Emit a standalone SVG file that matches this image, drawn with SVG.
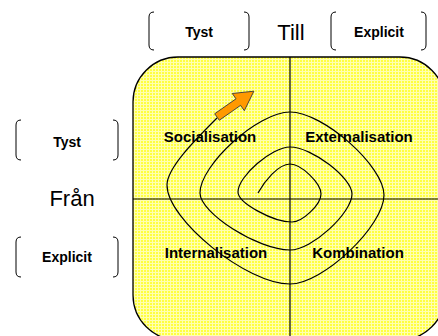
<svg xmlns="http://www.w3.org/2000/svg" width="438" height="336" viewBox="0 0 438 336">
<defs>
<pattern id="grid" width="3" height="3" patternUnits="userSpaceOnUse">
<rect width="3" height="3" fill="#ffff40"/>
<rect x="0" y="2" width="3" height="1" fill="#ffffb0"/>
<rect x="2" y="0" width="1" height="3" fill="#ffffb0"/>
</pattern>
</defs>
<style>
.br{fill:none;stroke:#000;stroke-width:1}
.lb{font-family:"Liberation Sans",Arial,sans-serif;font-weight:bold;font-size:14px;text-anchor:middle;fill:#000}
.q{font-family:"Liberation Sans",Arial,sans-serif;font-weight:bold;font-size:15px;text-anchor:middle;fill:#000}
.big{font-family:"Liberation Sans",Arial,sans-serif;font-size:22px;text-anchor:middle;fill:#000}
.ln{fill:none;stroke:#000;stroke-width:1.2}
</style>
<g id="field">
<rect x="133" y="57" width="312" height="283" rx="45" ry="45" fill="url(#grid)" stroke="#000" stroke-width="1.3"/>
</g>
<g id="connectors">
<line class="ln" x1="290" y1="57" x2="290" y2="340"/>
<line class="ln" x1="133" y1="199" x2="445" y2="199"/>
<path class="ln" d="M258,193 C264,182 278,164 290,164 C301,164 321,183 321,194 C321,205 302,222 292,222 C273,222 238,203 238,192 C238,176 272,147 290,147 C312,147 352,178 352,194 C352,213 312,250 290,250 C258,250 200,213 200,193 C200,165 258,112 290,112 C323,112 384,166 384,195 C384,226 323,284 290,284 C247,284 167,220 167,185 C167,168 195,140 217,118"/>
<path d="M0,-4 L26,-4 L26,-10.5 L45,0 L26,10.5 L26,4 L0,4 Z" transform="translate(217,117) rotate(-35)" fill="#ff9900" stroke="#333" stroke-width="0.8"/>
</g>
<g id="q-socialisation"><text class="q" x="210" y="142">Socialisation</text></g>
<g id="q-externalisation"><text class="q" x="359" y="142">Externalisation</text></g>
<g id="q-internalisation"><text class="q" x="216" y="258">Internalisation</text></g>
<g id="q-kombination"><text class="q" x="358" y="258">Kombination</text></g>
<g id="top-tyst">
<path class="br" d="M154,12 Q149,12 149,17 L149,45 Q149,50 154,50"/>
<path class="br" d="M244,12 Q249,12 249,17 L249,45 Q249,50 244,50"/>
<text class="lb" x="199" y="37">Tyst</text>
</g>
<g id="till"><text class="big" x="291" y="40">Till</text></g>
<g id="top-explicit">
<path class="br" d="M336,12 Q331,12 331,17 L331,45 Q331,50 336,50"/>
<path class="br" d="M421,12 Q426,12 426,17 L426,45 Q426,50 421,50"/>
<text class="lb" x="379" y="37">Explicit</text>
</g>
<g id="left-tyst">
<path class="br" d="M21,120 Q16,120 16,125 L16,155 Q16,160 21,160"/>
<path class="br" d="M113,120 Q118,120 118,125 L118,155 Q118,160 113,160"/>
<text class="lb" x="67" y="147">Tyst</text>
</g>
<g id="fran"><text class="big" x="72" y="206">Från</text></g>
<g id="left-explicit">
<path class="br" d="M21,237 Q16,237 16,242 L16,272 Q16,277 21,277"/>
<path class="br" d="M113,237 Q118,237 118,242 L118,272 Q118,277 113,277"/>
<text class="lb" x="67" y="262">Explicit</text>
</g>
</svg>
